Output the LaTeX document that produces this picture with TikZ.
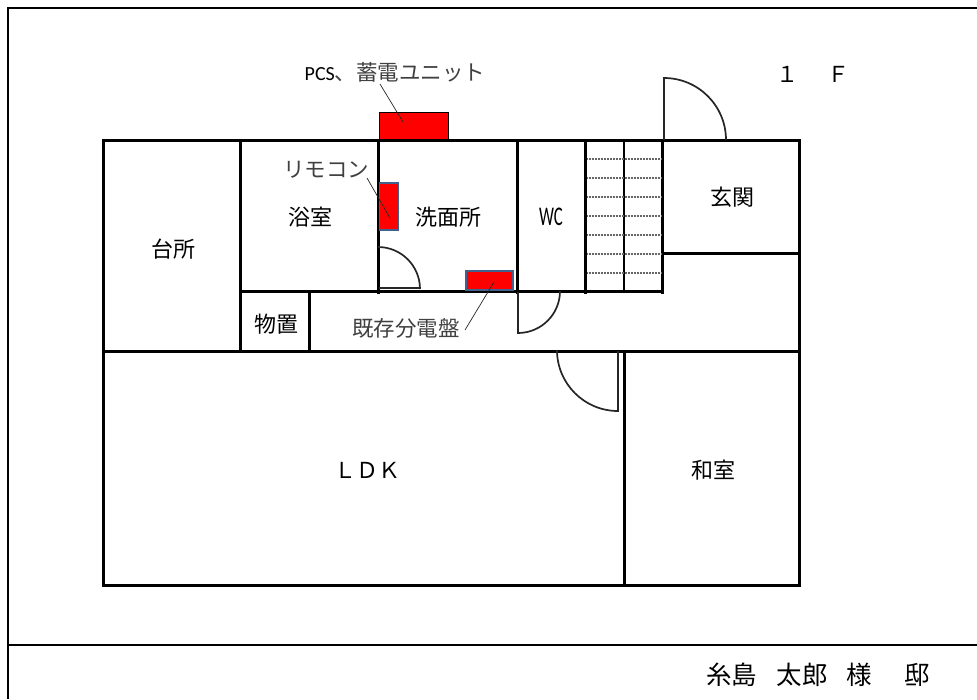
\documentclass[tikz,border=0pt]{standalone}
\usepackage{fontspec}
\setmainfont{Noto Sans CJK JP}
\newfontfamily\latinfont{Carlito}
\definecolor{boxblue}{HTML}{41618F}
\begin{document}
\begin{tikzpicture}[
    x=1pt,
    y=-1pt,
    wall/.style={line width=3pt, line cap=rect},
    door/.style={line width=1.7pt, black!85},
    tread/.style={line width=1.6pt, black!60, dash pattern=on 1.2pt off .3pt},
    leader/.style={line width=.7pt, black!85},
    frameline/.style={line width=1.6pt},
    room/.style={font=\fontsize{22}{22}\selectfont, inner sep=0pt},
    note/.style={font=\fontsize{21.5}{21.5}\selectfont, inner sep=0pt, black!75},
    redbox/.style={fill=red, draw=black, line width=1.4pt, anchor=north west, inner sep=0pt},
    bluebox/.style={fill=red, draw=boxblue, line width=1.6pt, anchor=north west, inner sep=0pt}
]
   \useasboundingbox (0,0) rectangle (977,699);

   % Sheet frame
   \draw[frameline] (977,8) -- (8,8) -- (8,699);
   \draw[line width=2.2pt] (8,645) -- (977,645);

   % Unit on the outside wall
   \node[redbox, minimum width=69pt, minimum height=28pt] (pcsbox) at (379,112) {};

   % Outer walls
   \draw[wall] (103,140) rectangle (799,585);
   \draw[wall] (103,351) -- (799,351);
   % Inner walls
   \draw[wall] (240,140) -- (240,351);
   \draw[wall] (378,140) -- (378,292);
   \draw[wall] (517,140) -- (517,292);
   \draw[wall] (585,140) -- (585,292);
   \draw[wall] (662,140) -- (662,292);
   \draw[wall] (240,291) -- (662,291);
   \draw[wall] (662,253) -- (799,253);
   \draw[wall] (309,291) -- (309,351);
   \draw[wall] (624,351) -- (624,585);
   \draw[line width=2.2pt] (624,140) -- (624,292);

   % Equipment
   \node[bluebox, minimum width=19pt, minimum height=47pt] (remotebox) at (378.5,182) {};
   \node[bluebox, minimum width=47pt, minimum height=19pt] (panelbox) at (465,270) {};

   % Stairs
   \foreach \y in {159,178,197,216,235,254,273}
      \draw[tread] (587,\y) -- (661,\y);

   % Doors
   \draw[door] (664,140) -- (664,78) arc[start angle=90, end angle=0, radius=62pt];
   \draw[door] (379,288) -- (420,288) (378,247) arc[start angle=90, end angle=0, radius=42pt];
   \draw[door] (518,292) -- (518,333) arc[start angle=270, end angle=360, radius=42pt];
   \draw[door] (618,351) -- (618,411) arc[start angle=270, end angle=180, radius=61pt];

   % Rooms
   \node[room] (kitchen) at (173,249) {台所};
   \node[room] (bath) at (310,217) {浴室};
   \node[room] (washroom) at (448,217) {洗面所};
   \node[room] (wc) at (551,217) {\scalebox{.62}[1]{\latinfont\fontsize{27}{27}\selectfont WC}};
   \node[room] (entrance) at (732,197) {玄関};
   \node[room] (storage) at (276,324) {物置};
   \node[room] (ldk) at (367,470) {ＬＤＫ};
   \node[room] (washitsu) at (713,470) {和室};
   \node[room] (floorname) at (813,74) {１\hspace{30pt}Ｆ};

   % Equipment labels
   \node[note] (pcslabel) at (395,72) {\textcolor{black}{\latinfont\fontsize{20}{20}\selectfont PCS}、蓄電ユニット};
   \node[note] (remotelabel) at (326,170) {リモコン};
   \node[note] (panellabel) at (406,328) {既存分電盤};

   % Leaders
   \coordinate (pcsfoot) at (380,84);
   \coordinate (pcstip) at (403,122);
   \coordinate (remotefoot) at (367,178);
   \coordinate (remotetip) at (390,218);
   \coordinate (panelfoot) at (465,330);
   \coordinate (paneltip) at (494,282);
   \draw[leader] (pcsfoot) -- (pcstip);
   \draw[leader] (remotefoot) -- (remotetip);
   \draw[leader] (panelfoot) -- (paneltip);

   % Owner
   \node[room, font=\fontsize{25.5}{25.5}\selectfont] (owner) at (818,675) {糸島\hspace{.75em}太郎\hspace{.75em}様\hspace{1.25em}邸};
\end{tikzpicture}
\end{document}
